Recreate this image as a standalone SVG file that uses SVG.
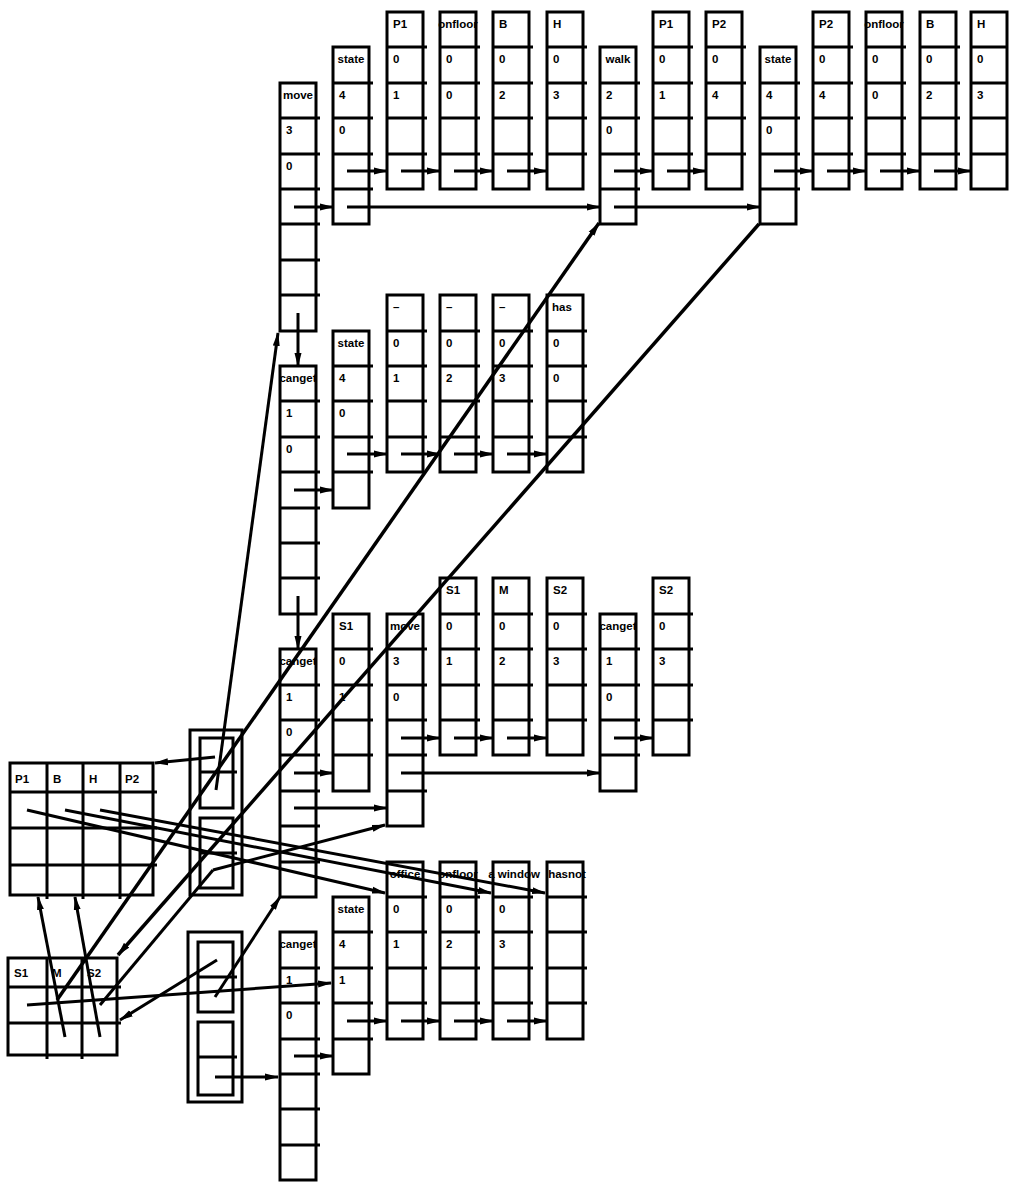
<svg xmlns="http://www.w3.org/2000/svg" width="1009" height="1182" viewBox="0 0 1009 1182">
<style>
.box{fill:#fff;stroke:#000;stroke-width:3}
.dv{stroke:#000;stroke-width:3}
.c{stroke:#000;stroke-width:3;fill:none}
.t{font-family:"Liberation Sans",Arial,sans-serif;font-weight:bold;font-size:11.5px;fill:#000}
.tm{font-family:"Liberation Sans",Arial,sans-serif;font-weight:bold;font-size:11.5px;fill:#000;text-anchor:middle}
</style>
<defs>
<marker id="a" markerUnits="userSpaceOnUse" markerWidth="14" markerHeight="8" refX="13" refY="4" orient="auto"><path d="M0,0.5 L14,4 L0,7.5 z" fill="#000"/></marker>
</defs>
<rect width="1009" height="1182" fill="#fff"/>

<!-- Section 1 -->
<g id="move1"><rect class="box" x="280" y="83" width="36" height="248"/><path class="dv" d="M280 118H320M280 154H320M280 189H320M280 224H320M280 260H320M280 295H320"/><text class="tm" x="298" y="99">move</text><text class="t" x="286" y="134">3</text><text class="t" x="286" y="170">0</text></g>
<g id="state1"><rect class="box" x="333" y="47" width="36" height="177"/><path class="dv" d="M333 83H373M333 118H373M333 154H373M333 189H373"/><text class="tm" x="351" y="63">state</text><text class="t" x="339" y="99">4</text><text class="t" x="339" y="134">0</text></g>
<g id="p1a"><rect class="box" x="387" y="12" width="36" height="177"/><path class="dv" d="M387 47H427M387 83H427M387 118H427M387 154H427"/><text class="t" x="393" y="28">P1</text><text class="t" x="393" y="63">0</text><text class="t" x="393" y="99">1</text></g>
<g id="onfloor1"><rect class="box" x="440" y="12" width="36" height="177"/><path class="dv" d="M440 47H480M440 83H480M440 118H480M440 154H480"/><text class="tm" x="458" y="28">onfloor</text><text class="t" x="446" y="63">0</text><text class="t" x="446" y="99">0</text></g>
<g id="b1"><rect class="box" x="493" y="12" width="36" height="177"/><path class="dv" d="M493 47H533M493 83H533M493 118H533M493 154H533"/><text class="t" x="499" y="28">B</text><text class="t" x="499" y="63">0</text><text class="t" x="499" y="99">2</text></g>
<g id="h1"><rect class="box" x="547" y="12" width="36" height="177"/><path class="dv" d="M547 47H587M547 83H587M547 118H587M547 154H587"/><text class="t" x="553" y="28">H</text><text class="t" x="553" y="63">0</text><text class="t" x="553" y="99">3</text></g>
<g id="walk"><rect class="box" x="600" y="47" width="36" height="177"/><path class="dv" d="M600 83H640M600 118H640M600 154H640M600 189H640"/><text class="tm" x="618" y="63">walk</text><text class="t" x="606" y="99">2</text><text class="t" x="606" y="134">0</text></g>
<g id="p1b"><rect class="box" x="653" y="12" width="36" height="177"/><path class="dv" d="M653 47H693M653 83H693M653 118H693M653 154H693"/><text class="t" x="659" y="28">P1</text><text class="t" x="659" y="63">0</text><text class="t" x="659" y="99">1</text></g>
<g id="p2a"><rect class="box" x="706" y="12" width="36" height="177"/><path class="dv" d="M706 47H746M706 83H746M706 118H746M706 154H746"/><text class="t" x="712" y="28">P2</text><text class="t" x="712" y="63">0</text><text class="t" x="712" y="99">4</text></g>
<g id="state2"><rect class="box" x="760" y="47" width="36" height="177"/><path class="dv" d="M760 83H800M760 118H800M760 154H800M760 189H800"/><text class="tm" x="778" y="63">state</text><text class="t" x="766" y="99">4</text><text class="t" x="766" y="134">0</text></g>
<g id="p2b"><rect class="box" x="813" y="12" width="36" height="177"/><path class="dv" d="M813 47H853M813 83H853M813 118H853M813 154H853"/><text class="t" x="819" y="28">P2</text><text class="t" x="819" y="63">0</text><text class="t" x="819" y="99">4</text></g>
<g id="onfloor2"><rect class="box" x="866" y="12" width="36" height="177"/><path class="dv" d="M866 47H906M866 83H906M866 118H906M866 154H906"/><text class="tm" x="884" y="28">onfloor</text><text class="t" x="872" y="63">0</text><text class="t" x="872" y="99">0</text></g>
<g id="b2"><rect class="box" x="920" y="12" width="36" height="177"/><path class="dv" d="M920 47H960M920 83H960M920 118H960M920 154H960"/><text class="t" x="926" y="28">B</text><text class="t" x="926" y="63">0</text><text class="t" x="926" y="99">2</text></g>
<g id="h2"><rect class="box" x="971" y="12" width="36" height="177"/><path class="dv" d="M971 47H1007M971 83H1007M971 118H1007M971 154H1007"/><text class="t" x="977" y="28">H</text><text class="t" x="977" y="63">0</text><text class="t" x="977" y="99">3</text></g>

<!-- Section 2 -->
<g id="canget2"><rect class="box" x="280" y="366" width="36" height="248"/><path class="dv" d="M280 401H320M280 437H320M280 472H320M280 508H320M280 543H320M280 578H320"/><text class="tm" x="298" y="382">canget</text><text class="t" x="286" y="417">1</text><text class="t" x="286" y="453">0</text></g>
<g id="state3"><rect class="box" x="333" y="331" width="36" height="177"/><path class="dv" d="M333 366H373M333 401H373M333 437H373M333 472H373"/><text class="tm" x="351" y="347">state</text><text class="t" x="339" y="382">4</text><text class="t" x="339" y="417">0</text></g>
<g id="u1"><rect class="box" x="387" y="295" width="36" height="177"/><path class="dv" d="M387 331H427M387 366H427M387 401H427M387 437H427"/><text class="t" x="393" y="311">–</text><text class="t" x="393" y="347">0</text><text class="t" x="393" y="382">1</text></g>
<g id="u2"><rect class="box" x="440" y="295" width="36" height="177"/><path class="dv" d="M440 331H480M440 366H480M440 401H480M440 437H480"/><text class="t" x="446" y="311">–</text><text class="t" x="446" y="347">0</text><text class="t" x="446" y="382">2</text></g>
<g id="u3"><rect class="box" x="493" y="295" width="36" height="177"/><path class="dv" d="M493 331H533M493 366H533M493 401H533M493 437H533"/><text class="t" x="499" y="311">–</text><text class="t" x="499" y="347">0</text><text class="t" x="499" y="382">3</text></g>
<g id="has"><rect class="box" x="547" y="295" width="36" height="177"/><path class="dv" d="M547 331H587M547 366H587M547 401H587M547 437H587"/><text class="t" x="552" y="311">has</text><text class="t" x="553" y="347">0</text><text class="t" x="553" y="382">0</text></g>

<!-- Section 3 -->
<g id="canget3"><rect class="box" x="280" y="649" width="36" height="248"/><path class="dv" d="M280 685H320M280 720H320M280 755H320M280 791H320M280 826H320M280 862H320"/><text class="tm" x="298" y="665">canget</text><text class="t" x="286" y="701">1</text><text class="t" x="286" y="736">0</text></g>
<g id="s1a"><rect class="box" x="333" y="614" width="36" height="177"/><path class="dv" d="M333 649H373M333 685H373M333 720H373M333 755H373"/><text class="t" x="339" y="630">S1</text><text class="t" x="339" y="665">0</text><text class="t" x="339" y="701">1</text></g>
<g id="move3"><rect class="box" x="387" y="614" width="36" height="212"/><path class="dv" d="M387 649H427M387 685H427M387 720H427M387 755H427M387 791H427"/><text class="tm" x="405" y="630">move</text><text class="t" x="393" y="665">3</text><text class="t" x="393" y="701">0</text></g>
<g id="s1b"><rect class="box" x="440" y="578" width="36" height="177"/><path class="dv" d="M440 614H480M440 649H480M440 685H480M440 720H480"/><text class="t" x="446" y="594">S1</text><text class="t" x="446" y="630">0</text><text class="t" x="446" y="665">1</text></g>
<g id="m"><rect class="box" x="493" y="578" width="36" height="177"/><path class="dv" d="M493 614H533M493 649H533M493 685H533M493 720H533"/><text class="t" x="499" y="594">M</text><text class="t" x="499" y="630">0</text><text class="t" x="499" y="665">2</text></g>
<g id="s2a"><rect class="box" x="547" y="578" width="36" height="177"/><path class="dv" d="M547 614H587M547 649H587M547 685H587M547 720H587"/><text class="t" x="553" y="594">S2</text><text class="t" x="553" y="630">0</text><text class="t" x="553" y="665">3</text></g>
<g id="canget4"><rect class="box" x="600" y="614" width="36" height="177"/><path class="dv" d="M600 649H640M600 685H640M600 720H640M600 755H640"/><text class="tm" x="618" y="630">canget</text><text class="t" x="606" y="665">1</text><text class="t" x="606" y="701">0</text></g>
<g id="s2b"><rect class="box" x="653" y="578" width="36" height="177"/><path class="dv" d="M653 614H693M653 649H693M653 685H693M653 720H693"/><text class="t" x="659" y="594">S2</text><text class="t" x="659" y="630">0</text><text class="t" x="659" y="665">3</text></g>

<!-- Section 4 -->
<g id="canget5"><rect class="box" x="280" y="932" width="36" height="248"/><path class="dv" d="M280 968H320M280 1003H320M280 1039H320M280 1074H320M280 1109H320M280 1145H320"/><text class="tm" x="298" y="948">canget</text><text class="t" x="286" y="984">1</text><text class="t" x="286" y="1019">0</text></g>
<g id="state4"><rect class="box" x="333" y="897" width="36" height="177"/><path class="dv" d="M333 932H373M333 968H373M333 1003H373M333 1039H373"/><text class="tm" x="351" y="913">state</text><text class="t" x="339" y="948">4</text><text class="t" x="339" y="984">1</text></g>
<g id="office"><rect class="box" x="387" y="862" width="36" height="177"/><path class="dv" d="M387 897H427M387 932H427M387 968H427M387 1003H427"/><text class="tm" x="405" y="878">office</text><text class="t" x="393" y="913">0</text><text class="t" x="393" y="948">1</text></g>
<g id="onfloor3"><rect class="box" x="440" y="862" width="36" height="177"/><path class="dv" d="M440 897H480M440 932H480M440 968H480M440 1003H480"/><text class="tm" x="458" y="878">onfloor</text><text class="t" x="446" y="913">0</text><text class="t" x="446" y="948">2</text></g>
<g id="awindow"><rect class="box" x="493" y="862" width="36" height="177"/><path class="dv" d="M493 897H533M493 932H533M493 968H533M493 1003H533"/><text class="tm" x="514" y="878">a window</text><text class="t" x="499" y="913">0</text><text class="t" x="499" y="948">3</text></g>
<g id="hasnot"><rect class="box" x="547" y="862" width="36" height="177"/><path class="dv" d="M547 897H587M547 932H587M547 968H587M547 1003H587"/><text class="tm" x="567" y="878">hasnot</text></g>

<!-- Left tables and pointer boxes -->
<g id="tableP"><rect class="box" x="10" y="763" width="143" height="132"/><path class="dv" d="M47 763V899M83 763V899M120 763V899M10 792H157M10 828H157M10 865H157"/><text class="t" x="15" y="783">P1</text><text class="t" x="53" y="783">B</text><text class="t" x="89" y="783">H</text><text class="t" x="125" y="783">P2</text></g>
<g id="tableS"><rect class="box" x="8" y="958" width="109" height="97"/><path class="dv" d="M47 958V1059M82 958V1059M8 987H121M8 1023H121"/><text class="t" x="14" y="977">S1</text><text class="t" x="52" y="977">M</text><text class="t" x="87" y="977">S2</text></g>
<g id="ptrbox1"><rect class="box" x="190" y="730" width="52" height="165"/><rect class="box" x="200" y="738" width="33" height="70"/><rect class="box" x="200" y="818" width="33" height="70"/><path class="dv" d="M200 772H237M200 853H237"/></g>
<g id="ptrbox2"><rect class="box" x="188" y="932" width="54" height="170"/><rect class="box" x="198" y="942" width="35" height="70"/><rect class="box" x="198" y="1022" width="35" height="73"/><path class="dv" d="M198 977H237M198 1057H237"/></g>

<g id="connectors" class="c">
<path marker-end="url(#a)" d="M294 207H333"/>
<path marker-end="url(#a)" d="M347 171H387"/>
<path marker-end="url(#a)" d="M401 171H440"/>
<path marker-end="url(#a)" d="M454 171H493"/>
<path marker-end="url(#a)" d="M507 171H547"/>
<path marker-end="url(#a)" d="M347 207H600"/>
<path marker-end="url(#a)" d="M614 171H653"/>
<path marker-end="url(#a)" d="M667 171H706"/>
<path marker-end="url(#a)" d="M614 207H760"/>
<path marker-end="url(#a)" d="M774 171H813"/>
<path marker-end="url(#a)" d="M827 171H866"/>
<path marker-end="url(#a)" d="M880 171H920"/>
<path marker-end="url(#a)" d="M934 171H971"/>
<path marker-end="url(#a)" d="M298 313V366"/>
<path marker-end="url(#a)" d="M294 490H333"/>
<path marker-end="url(#a)" d="M347 454H387"/>
<path marker-end="url(#a)" d="M401 454H440"/>
<path marker-end="url(#a)" d="M454 454H493"/>
<path marker-end="url(#a)" d="M507 454H547"/>
<path marker-end="url(#a)" d="M298 596V649"/>
<path marker-end="url(#a)" d="M294 773H333"/>
<path marker-end="url(#a)" d="M294 808H387"/>
<path marker-end="url(#a)" d="M401 738H440"/>
<path marker-end="url(#a)" d="M454 738H493"/>
<path marker-end="url(#a)" d="M507 738H547"/>
<path marker-end="url(#a)" d="M401 773H600"/>
<path marker-end="url(#a)" d="M614 738H653"/>
<path marker-end="url(#a)" d="M294 1056H333"/>
<path marker-end="url(#a)" d="M347 1021H387"/>
<path marker-end="url(#a)" d="M401 1021H440"/>
<path marker-end="url(#a)" d="M454 1021H493"/>
<path marker-end="url(#a)" d="M507 1021H547"/>
<path marker-end="url(#a)" style="stroke-width:3.5" d="M57 1000L599 223"/>
<path marker-end="url(#a)" style="stroke-width:3.5" d="M759 224L118 955"/>
<path marker-end="url(#a)" d="M215 757L155 763"/>
<path marker-end="url(#a)" d="M216 790L278 333"/>
<path marker-end="url(#a)" d="M217 960L120 1020"/>
<path marker-end="url(#a)" d="M215 997L280 897"/>
<path marker-end="url(#a)" d="M215 1077H278"/>
<path marker-end="url(#a)" d="M27 1005L331 983"/>
<path marker-end="url(#a)" d="M65 1037L38 897"/>
<path marker-end="url(#a)" d="M100 1037L75 897"/>
<path marker-end="url(#a)" d="M27 810L385 893"/>
<path marker-end="url(#a)" d="M65 810L491 893"/>
<path marker-end="url(#a)" d="M100 810L545 893"/>
<path marker-end="url(#a)" d="M213 870L385 825"/>
<path d="M100 1005L213 870"/>
</g>
</svg>
